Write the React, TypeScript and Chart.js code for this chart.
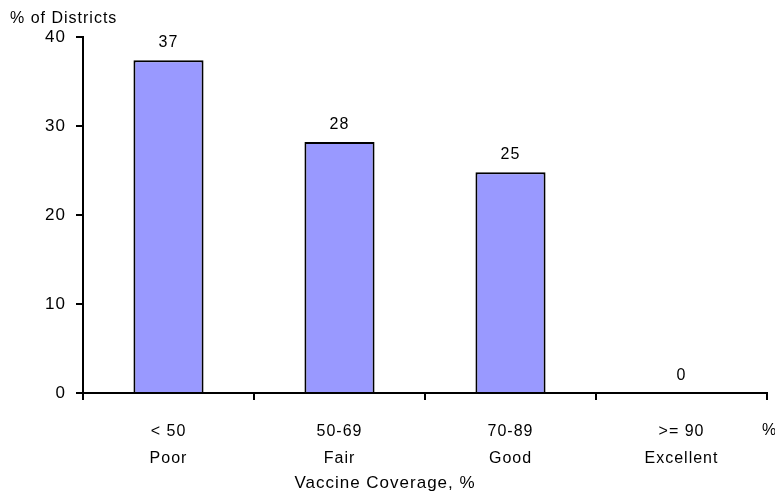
import React, { useEffect, useRef } from "react";
import { Chart, registerables } from "chart.js";

Chart.register(...registerables);

const RANGES = ["< 50", "50-69", "70-89", ">= 90"];
const GRADES = ["Poor", "Fair", "Good", "Excellent"];
const DISTRICT_PCT = [37.4, 28.2, 24.8, 0];
const Y_TICKS = [0, 10, 20, 30, 40];

const FONT = "'Liberation Sans', Arial, sans-serif";

const extras = {
  id: "extras",
  beforeLayout(chart: Chart) {
    (chart.ctx as any).letterSpacing = "1px";
  },
  afterDraw(chart: Chart) {
    const { ctx } = chart;
    const meta = chart.getDatasetMeta(0);
    ctx.save();
    (ctx as any).letterSpacing = "1px";
    ctx.fillStyle = "#000";
    ctx.font = `16px ${FONT}`;
    ctx.textAlign = "center";
    ctx.textBaseline = "alphabetic";
    meta.data.forEach((bar: any, i) => {
      ctx.fillText(String(Math.round(DISTRICT_PCT[i])), bar.x, bar.y - 13);
    });
    ctx.textAlign = "left";
    ctx.textBaseline = "middle";
    ctx.fillText("% of Districts", 10, 19);
    ctx.fillText("%", 762, 431);
    ctx.textAlign = "center";
    ctx.font = `17px ${FONT}`;
    ctx.fillText("Vaccine Coverage, %", 385, 483);
    ctx.restore();
  },
};

export default function App() {
  const canvasRef = useRef<HTMLCanvasElement>(null);

  useEffect(() => {
    if (!canvasRef.current) return;
    const chart = new Chart(canvasRef.current, {
      type: "bar",
      data: {
        labels: RANGES.map((r, i) => [r, GRADES[i]]),
        datasets: [
          {
            data: DISTRICT_PCT,
            backgroundColor: "#9999FF",
            borderColor: "#000",
            borderWidth: 2,
            borderSkipped: "start",
            categoryPercentage: 1,
            barPercentage: 0.41,
          },
        ],
      },
      options: {
        animation: false,
        responsive: false,
        devicePixelRatio: 1,
        layout: { padding: { top: 37, right: 8, left: 0, bottom: 0 } },
        plugins: {
          legend: { display: false },
          tooltip: { enabled: false },
        },
        scales: {
          x: {
            offset: true,
            grid: {
              offset: true,
              drawOnChartArea: false,
              drawTicks: true,
              tickLength: 7,
              color: "#000",
              lineWidth: 2,
            },
            border: { display: true, color: "#000", width: 2 },
            ticks: {
              color: "#000",
              padding: 18,
              font: { family: FONT, size: 16, lineHeight: 1.7 },
              maxRotation: 0,
              autoSkip: false,
            },
            afterFit: (scale: any) => {
              scale.height = 105;
            },
          },
          y: {
            min: 0,
            max: 40,
            afterBuildTicks: (scale: any) => {
              scale.ticks = Y_TICKS.map((v) => ({ value: v }));
            },
            grid: {
              drawOnChartArea: false,
              drawTicks: true,
              tickLength: 7,
              color: "#000",
              lineWidth: 2,
            },
            border: { display: true, color: "#000", width: 2 },
            ticks: {
              color: "#000",
              padding: 10,
              font: { family: FONT, size: 17 },
            },
            afterFit: (scale: any) => {
              scale.width = 83;
            },
          },
        },
      },
      plugins: [extras],
    });
    return () => chart.destroy();
  }, []);

  return (
    <div
      style={{
        position: "fixed",
        left: 0,
        top: 0,
        width: 775,
        height: 498,
        background: "#fff",
      }}
    >
      <canvas
        ref={canvasRef}
        width={775}
        height={498}
        role="img"
        aria-label="Percent of districts by vaccine coverage"
      />
    </div>
  );
}
